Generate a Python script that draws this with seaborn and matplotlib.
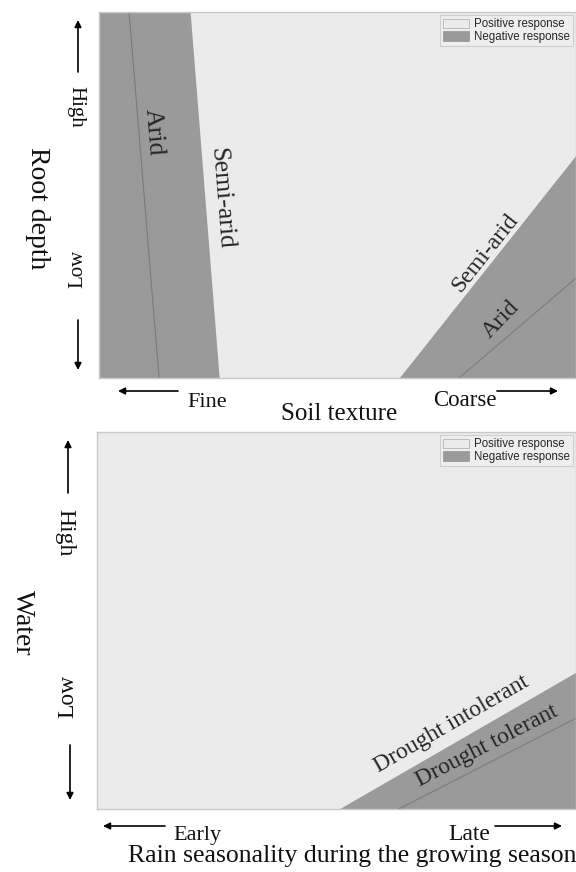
import numpy as np
import matplotlib
matplotlib.use("Agg")
import matplotlib.pyplot as plt
from matplotlib.patches import Patch
import seaborn as sns

# ---- data (axes run 0..1 on both panels) ----
depth_ends = [1.0, 0.0]              # high root depth -> low root depth
fine_semiarid_x = [0.191, 0.252]     # fine-soil negative zone edge
fine_arid_x = [0.063, 0.126]         # arid line inside the fine zone
coarse_semiarid_x = [0.629, 1.0]
coarse_semiarid_y = [0.0, 0.609]
coarse_arid_x = [0.755, 1.0]
coarse_arid_y = [0.0, 0.273]

intolerant_x = [0.505, 1.0]
intolerant_y = [0.0, 0.363]
tolerant_x = [0.630, 1.0]
tolerant_y = [0.0, 0.241]

legend_labels = ["Positive response", "Negative response"]

LIGHT = "#ebebeb"
DARK = "#9a9a9a"
LINE = "#7c7c7c"
SERIF = "Liberation Serif"

sns.set_theme(style="white")
plt.rcParams["font.family"] = [SERIF, "DejaVu Serif"]

W, H = 576, 872
fig = plt.figure(figsize=(W / 100, H / 100), dpi=100)
fig.patch.set_facecolor("white")


def px_axes(x0, y0, x1, y1):
    # pixel box (top-left origin) -> figure axes
    return fig.add_axes([x0 / W, 1 - y1 / H, (x1 - x0) / W, (y1 - y0) / H])


def angle(ax, p0, p1):
    a = ax.transAxes.transform(p0)
    b = ax.transAxes.transform(p1)
    return np.degrees(np.arctan2(b[1] - a[1], b[0] - a[0]))


def style_axes(ax):
    ax.set_xlim(0, 1)
    ax.set_ylim(0, 1)
    ax.set_facecolor(LIGHT)
    ax.set_xticks([])
    ax.set_yticks([])
    ax.set_xlabel("")
    ax.set_ylabel("")
    for s in ax.spines.values():
        s.set_color("#c9c9c9")
        s.set_linewidth(1.0)
    handles = [Patch(facecolor=LIGHT, edgecolor="#b5b5b5", lw=0.6),
               Patch(facecolor=DARK, edgecolor=DARK, lw=0.6)]
    leg = ax.legend(handles, legend_labels, loc="upper right",
                    prop={"family": "Liberation Sans", "size": 8.3},
                    frameon=True, fancybox=False, framealpha=1,
                    edgecolor="#cfcfcf", facecolor="#eeeeee",
                    handlelength=2.3, handleheight=0.9, handletextpad=0.4,
                    labelspacing=0.05, borderpad=0.25, borderaxespad=0.3)
    leg.get_frame().set_linewidth(0.8)


def arrow(p_from, p_to):
    fig.add_artist(plt.Annotation(
        "", xy=(p_to[0], H - p_to[1]), xytext=(p_from[0], H - p_from[1]),
        xycoords="figure pixels", textcoords="figure pixels",
        arrowprops=dict(arrowstyle="-|>", color="black", lw=1.2,
                        mutation_scale=10, shrinkA=0, shrinkB=0)))


def ftext(x, y, s, size, **kw):
    fig.text(x / W, 1 - y / H, s, fontsize=size, color="#111111", **kw)


# ---------------- top panel: root depth vs soil texture ----------------
ax1 = px_axes(99, 12, 576, 378)
ax1.fill_betweenx(depth_ends, 0, fine_semiarid_x, color=DARK, lw=0)
ax1.fill_between(coarse_semiarid_x, 0, coarse_semiarid_y, color=DARK, lw=0)
sns.lineplot(x=fine_arid_x, y=depth_ends, sort=False, estimator=None,
             color=LINE, lw=0.8, ax=ax1)
sns.lineplot(x=coarse_arid_x, y=coarse_arid_y, estimator=None,
             color=LINE, lw=0.8, ax=ax1)
style_axes(ax1)

rot_fs = angle(ax1, (fine_semiarid_x[0], 1), (fine_semiarid_x[1], 0))
rot_fa = angle(ax1, (fine_arid_x[0], 1), (fine_arid_x[1], 0))
rot_cs = angle(ax1, (coarse_semiarid_x[0], 0), (1, coarse_semiarid_y[1]))
rot_ca = angle(ax1, (coarse_arid_x[0], 0), (1, coarse_arid_y[1]))

ax1.text(0.115, 0.672, "Arid", fontsize=18.5, rotation=rot_fa,
         ha="center", va="center", transform=ax1.transAxes,
         rotation_mode="anchor")
ax1.text(0.256, 0.492, "Semi-arid", fontsize=18.5, rotation=rot_fs,
         ha="center", va="center", transform=ax1.transAxes,
         rotation_mode="anchor")
ax1.text(0.809, 0.342, "Semi-arid", fontsize=17, rotation=rot_cs,
         ha="center", va="center", transform=ax1.transAxes,
         rotation_mode="anchor")
ax1.text(0.843, 0.161, "Arid", fontsize=17, rotation=(rot_cs + rot_ca) / 2,
         ha="center", va="center", transform=ax1.transAxes,
         rotation_mode="anchor")

ftext(37, 208, "Root depth", 20, rotation=270, ha="center", va="center")
ftext(76, 107, "High", 15, rotation=270, ha="center", va="center")
ftext(78, 269, "Low", 15, rotation=90, ha="center", va="center")
arrow((78, 72), (78, 20))
arrow((78, 320), (78, 370))

ftext(187, 407, "Fine", 16, ha="left", va="baseline")
ftext(433, 406, "Coarse", 16.5, ha="left", va="baseline")
ftext(339, 420, "Soil texture", 18, ha="center", va="baseline")
arrow((178, 391), (118, 391))
arrow((497, 391), (558, 391))

# ---------------- bottom panel: water vs rain seasonality ----------------
ax2 = px_axes(97, 432, 576, 809)
ax2.fill_between(intolerant_x, 0, intolerant_y, color=DARK, lw=0)
sns.lineplot(x=tolerant_x, y=tolerant_y, estimator=None,
             color=LINE, lw=0.8, ax=ax2)
style_axes(ax2)

rot_di = angle(ax2, (intolerant_x[0], 0), (1, intolerant_y[1]))
rot_dt = angle(ax2, (tolerant_x[0], 0), (1, tolerant_y[1]))
ax2.text(0.741, 0.225, "Drought intolerant", fontsize=17, rotation=rot_di,
         ha="center", va="center", transform=ax2.transAxes,
         rotation_mode="anchor")
ax2.text(0.814, 0.167, "Drought tolerant", fontsize=17, rotation=rot_dt,
         ha="center", va="center", transform=ax2.transAxes,
         rotation_mode="anchor")

ftext(22, 623, "Water", 20, rotation=270, ha="center", va="center")
ftext(65, 533, "High", 17, rotation=270, ha="center", va="center")
ftext(68, 696, "Low", 17, rotation=90, ha="center", va="center")
arrow((68, 493), (68, 440))
arrow((70, 745), (70, 800))

ftext(173, 840, "Early", 16, ha="left", va="baseline")
ftext(448, 840, "Late", 17, ha="left", va="baseline")
ftext(352, 862, "Rain seasonality during the growing season", 18.5,
      ha="center", va="baseline")
arrow((165, 826), (103, 826))
arrow((495, 826), (562, 826))

fig.savefig("out.png", dpi=100)
